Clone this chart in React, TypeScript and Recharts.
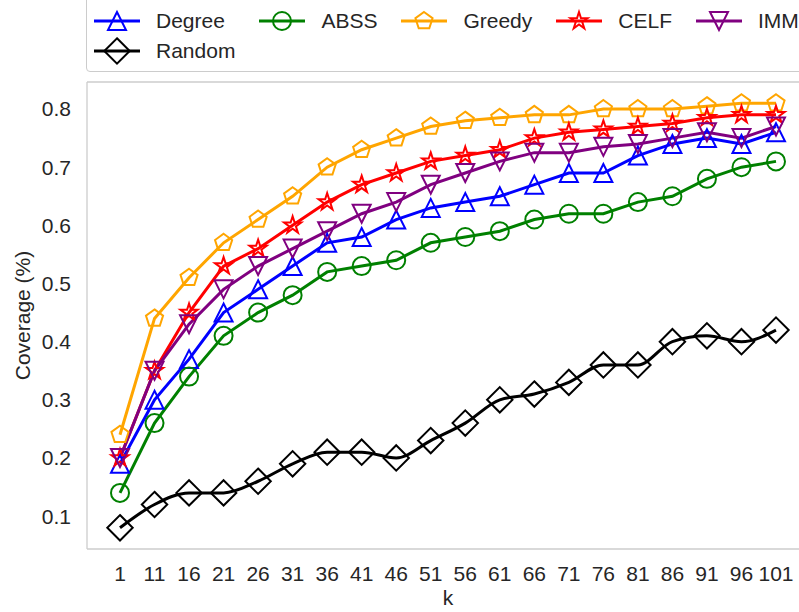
import { LineChart, Line, XAxis, YAxis, ReferenceLine, Legend } from 'recharts';

// k values on the x axis
const kLabels = ['1', '11', '16', '21', '26', '31', '36', '41', '46', '51', '56', '61', '66', '71', '76', '81', '86', '91', '96', '101'];

const degree = [0.19, 0.30, 0.37, 0.45, 0.49, 0.53, 0.57, 0.58, 0.61, 0.63, 0.64, 0.65, 0.67, 0.69, 0.69, 0.72, 0.74, 0.75, 0.74, 0.76];
const abss = [0.14, 0.26, 0.34, 0.41, 0.45, 0.48, 0.52, 0.53, 0.54, 0.57, 0.58, 0.59, 0.61, 0.62, 0.62, 0.64, 0.65, 0.68, 0.70, 0.71];
const greedy = [0.24, 0.44, 0.51, 0.57, 0.61, 0.65, 0.70, 0.73, 0.75, 0.77, 0.78, 0.785, 0.79, 0.79, 0.80, 0.80, 0.80, 0.805, 0.81, 0.81];
const celf = [0.20, 0.35, 0.45, 0.53, 0.56, 0.60, 0.64, 0.67, 0.69, 0.71, 0.72, 0.73, 0.75, 0.76, 0.765, 0.77, 0.775, 0.785, 0.79, 0.79];
const imm = [0.20, 0.35, 0.43, 0.49, 0.53, 0.56, 0.59, 0.62, 0.64, 0.67, 0.69, 0.71, 0.725, 0.725, 0.735, 0.74, 0.75, 0.76, 0.75, 0.77];
const random = [0.08, 0.12, 0.14, 0.14, 0.16, 0.19, 0.21, 0.21, 0.20, 0.23, 0.26, 0.30, 0.31, 0.33, 0.36, 0.36, 0.40, 0.41, 0.40, 0.42];

const yTicks = [0.1, 0.2, 0.3, 0.4, 0.5, 0.6, 0.7, 0.8];
const yDomain: [number, number] = [0.0435, 0.8465];

type Shape = 'triangleUp' | 'circle' | 'pentagon' | 'star' | 'triangleDown' | 'diamond';

const series: { key: string; name: string; color: string; shape: Shape; smooth?: boolean; values: number[] }[] = [
  { key: 'degree', name: 'Degree', color: '#0000ff', shape: 'triangleUp', values: degree },
  { key: 'abss', name: 'ABSS', color: '#008000', shape: 'circle', values: abss },
  { key: 'greedy', name: 'Greedy', color: '#ffa500', shape: 'pentagon', values: greedy },
  { key: 'celf', name: 'CELF', color: '#ff0000', shape: 'star', values: celf },
  { key: 'imm', name: 'IMM', color: '#800080', shape: 'triangleDown', values: imm },
  { key: 'random', name: 'Random', color: '#000000', shape: 'diamond', smooth: true, values: random },
];

const data = kLabels.map((k, i) => {
  const row: Record<string, string | number> = { k };
  series.forEach(s => { row[s.key] = s.values[i]; });
  return row;
});

const textColor = '#262626';
const frameColor = '#cccccc';

function polygon(cx: number, cy: number, pts: [number, number][]) {
  return pts.map(([x, y]) => `${cx + x},${cy + y}`).join(' ');
}

function Marker({ shape, cx, cy, color }: { shape: Shape; cx: number; cy: number; color: string }) {
  const common = { fill: 'none', stroke: color, strokeWidth: 2 };
  const h = 9;
  if (shape === 'circle') return <circle cx={cx} cy={cy} r={h} {...common} />;
  if (shape === 'triangleUp') return <polygon points={polygon(cx, cy, [[0, -h], [-h, h], [h, h]])} {...common} />;
  if (shape === 'triangleDown') return <polygon points={polygon(cx, cy, [[0, h], [-h, -h], [h, -h]])} {...common} />;
  if (shape === 'diamond') {
    const d = 12.7;
    return <polygon points={polygon(cx, cy, [[0, -d], [d, 0], [0, d], [-d, 0]])} {...common} />;
  }
  if (shape === 'pentagon') {
    const pts: [number, number][] = [];
    for (let i = 0; i < 5; i++) {
      const a = (-90 + i * 72) * Math.PI / 180;
      pts.push([h * Math.cos(a), h * Math.sin(a)]);
    }
    return <polygon points={polygon(cx, cy, pts)} {...common} />;
  }
  // star
  const pts: [number, number][] = [];
  for (let i = 0; i < 10; i++) {
    const a = (-90 + i * 36) * Math.PI / 180;
    const r = i % 2 === 0 ? h : h * 0.382;
    pts.push([r * Math.cos(a), r * Math.sin(a)]);
  }
  return <polygon points={polygon(cx, cy, pts)} {...common} />;
}

function LegendBox() {
  return (
    <div
      style={{
        width: 730,
        height: 78,
        boxSizing: 'border-box',
        border: `1.3px solid ${frameColor}`,
        borderRadius: 4,
        background: '#fff',
        padding: '11px 0 0 7px',
        display: 'grid',
        gridTemplateColumns: 'repeat(5, auto)',
        gridAutoRows: 30,
        justifyContent: 'start',
        columnGap: 24,
        fontSize: 21,
        color: textColor,
      }}
    >
      {series.map(s => (
        <div key={s.key} style={{ display: 'flex', alignItems: 'center', height: 30 }}>
          <svg width={46} height={30} style={{ marginRight: 16, overflow: 'visible' }}>
            <line x1={0} y1={15} x2={46} y2={15} stroke={s.color} strokeWidth={3} />
            <Marker shape={s.shape} cx={23} cy={15} color={s.color} />
          </svg>
          <span>{s.name}</span>
        </div>
      ))}
    </div>
  );
}

function YLabel(props: any) {
  const vb = props.viewBox || { x: 0, y: 82, width: 87, height: 467 };
  const x = vb.x + 22;
  const y = vb.y + vb.height / 2;
  return (
    <text x={x} y={y} transform={`rotate(-90 ${x} ${y})`} textAnchor="middle" dominantBaseline="central" fill={textColor} fontSize={21}>
      Coverage (%)
    </text>
  );
}

export default function App() {
  return (
    <div
      style={{
        position: 'absolute',
        left: 0,
        top: 0,
        width: 799,
        height: 612,
        overflow: 'hidden',
        background: '#fff',
        fontFamily: '"Liberation Sans", Arial, sans-serif',
      }}
    >
      <LineChart width={820} height={612} data={data} margin={{ top: 82, right: 11, bottom: 3, left: 0 }}>
        <XAxis
          dataKey="k"
          padding={{ left: 33, right: 33 }}
          height={60}
          tickLine={false}
          tickSize={0}
          tickMargin={17}
          interval={0}
          axisLine={{ stroke: frameColor, strokeWidth: 1.3 }}
          tick={{ fill: textColor, fontSize: 21 }}
          label={{ value: 'k', position: 'insideBottom', offset: 4, fill: textColor, fontSize: 21 }}
        />
        <YAxis
          width={87}
          domain={yDomain}
          ticks={yTicks}
          allowDataOverflow
          tickLine={false}
          tickSize={0}
          tickMargin={16}
          axisLine={{ stroke: frameColor, strokeWidth: 1.3 }}
          tick={{ fill: textColor, fontSize: 21 }}
          tickFormatter={(v: number) => v.toFixed(1)}
          label={<YLabel />}
        />
        <ReferenceLine y={yDomain[1]} stroke={frameColor} strokeWidth={1.3} />
        {series.map(s => (
          <Line
            key={s.key}
            dataKey={s.key}
            name={s.name}
            type={s.smooth ? 'monotone' : 'linear'}
            stroke={s.color}
            strokeWidth={3}
            isAnimationActive={false}
            activeDot={false}
            dot={(p: any) => <Marker key={`${s.key}-${p.index}`} shape={s.shape} cx={p.cx} cy={p.cy} color={s.color} />}
          />
        ))}
        <Legend
          layout="vertical"
          align="center"
          verticalAlign="middle"
          wrapperStyle={{ left: 86, top: -6, width: 730 }}
          content={() => <LegendBox />}
        />
      </LineChart>
    </div>
  );
}
